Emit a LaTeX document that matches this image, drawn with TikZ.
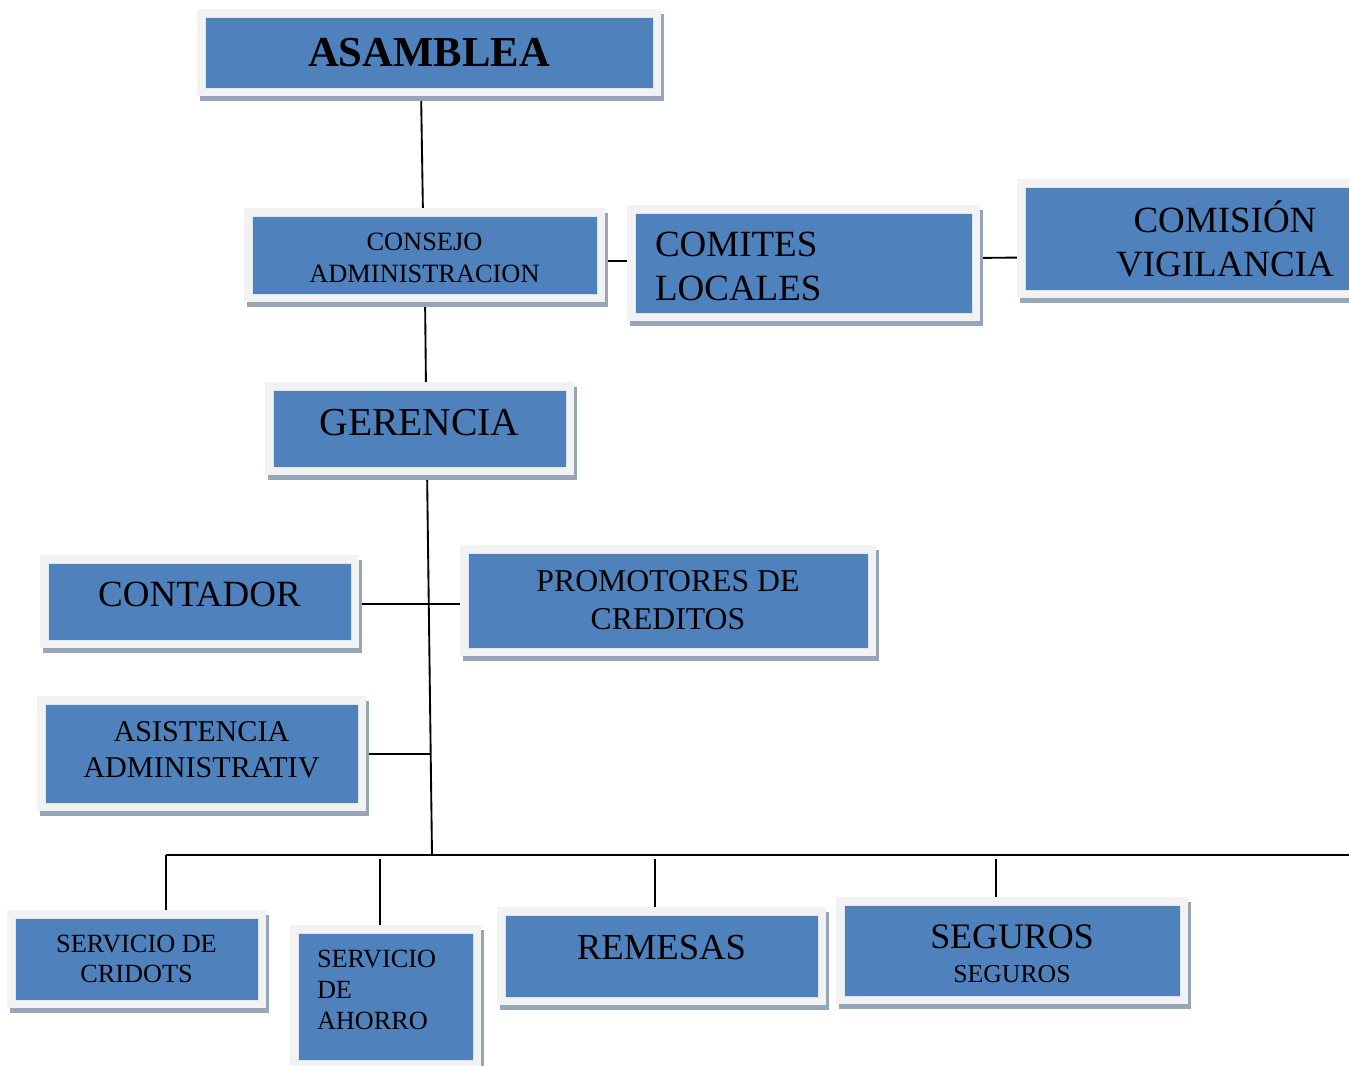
\documentclass[tikz,border=0pt]{standalone}
\usepackage{fontspec}
\setmainfont{Liberation Serif}
\usetikzlibrary{calc}
\definecolor{boxblue}{HTML}{4F81BD}
\definecolor{framegray}{HTML}{F2F2F2}
\definecolor{shadowgray}{HTML}{97A5B8}
\definecolor{edgeblue}{HTML}{DCE6F2}
\pgfdeclarelayer{links}
\pgfsetlayers{links,main}
\tikzset{
  orgbox/.style={fill=boxblue, draw=edgeblue, line width=0.6pt, inner sep=0pt,
    align=center, text=black,
    preaction={draw=shadowgray, fill=shadowgray, line width=12pt,
      transform canvas={shift={(2.5pt,-4pt)}}},
    preaction={draw=framegray, fill=framegray, line width=12pt}},
  boxsize/.style 2 args={minimum width=#1*0.75pt, minimum height=#2*0.75pt},
  link/.style={draw=black, line width=1.4pt},
}
\begin{document}
\begin{tikzpicture}[x=0.75pt, y=-0.75pt]
  \path[use as bounding box, clip] (0,0) rectangle (1349,1066);

  % governing bodies
  \node[orgbox, boxsize={448}{71}, font=\bfseries\fontsize{32}{40}\selectfont]
    (asamblea) at (429,52.5) {ASAMBLEA};
  \node[orgbox, boxsize={345}{78}, text height=41pt, font=\fontsize{19.8}{24}\selectfont]
    (consejo) at (424.5,255) {CONSEJO\\ADMINISTRACION};
  \node[orgbox, boxsize={337}{100}, align=left, inner xsep=15pt, text width=222.75pt,
    text depth=27.8pt, font=\fontsize{27.75}{33}\selectfont]
    (comites) at (803.5,263) {COMITES\\LOCALES};
  \node[orgbox, boxsize={400}{103}, font=\fontsize{27.75}{33}\selectfont]
    (comision) at (1225,238.5) {COMISIÓN\\VIGILANCIA};
  \node[orgbox, boxsize={293}{77}, text depth=9.75pt, font=\fontsize{29.7}{36}\selectfont]
    (gerencia) at (419.5,428.5) {GERENCIA};

  % staff units
  \node[orgbox, boxsize={303}{77}, text depth=10.5pt, font=\fontsize{27.75}{33}\selectfont]
    (contador) at (199.5,601.5) {CONTADOR};
  \node[orgbox, boxsize={400}{95}, font=\fontsize{23.8}{28.5}\selectfont]
    (promotores) at (668,600.5) {PROMOTORES DE\\CREDITOS};
  \node[orgbox, boxsize={313}{99}, text depth=6pt, font=\fontsize{22.6}{27}\selectfont]
    (asistencia) at (201.5,753.5) {ASISTENCIA\\ADMINISTRATIV};

  % services
  \node[orgbox, boxsize={243}{82}, font=\fontsize{19.7}{22.5}\selectfont]
    (cridots) at (136.5,959) {SERVICIO DE\\CRIDOTS};
  \node[orgbox, boxsize={175}{127}, align=left, inner xsep=14.25pt, text width=102.75pt,
    text depth=57pt, font=\fontsize{19.7}{23.25}\selectfont]
    (ahorro) at (385.5,996.5) {SERVICIO\\DE\\AHORRO};
  \node[orgbox, boxsize={313}{82}, text depth=13.5pt, font=\fontsize{27.5}{33}\selectfont]
    (remesas) at (661.5,956) {REMESAS};
  \node[orgbox, boxsize={336}{91}, text height=48.5pt, font=\fontsize{26.9}{25.5}\selectfont]
    (seguros) at (1012,950.5) {SEGUROS\\{\fontsize{19.3}{25.5}\selectfont SEGUROS}};

  % connector points
  \coordinate (hub) at (432,855);
  \coordinate (busL) at (166,855);
  \coordinate (busR) at (1360,855);
  \coordinate (tap) at (431,754);

  \begin{pgfonlayer}{links}
    \draw[link] ($(asamblea.south)+(-8,0)$) -- ($(consejo.north)+(-1.5,0)$);
    \draw[link] ($(consejo.south)+(0.5,0)$) -- ($(gerencia.north)+(6.5,0)$);
    \draw[link] ($(consejo.east)+(0,6)$) -- ($(comites.west)+(0,-2)$);
    \draw[link] ($(comites.east)+(0,-5)$) -- ($(comision.west)+(0,19)$);
    \draw[link] ($(gerencia.south)+(7.5,0)$) -- (hub);
    \draw[link] ($(contador.east)+(0,2.5)$) -- ($(promotores.west)+(0,3.5)$);
    \draw[link] ($(asistencia.east)+(0,0.5)$) -- (tap);
    \draw[link] (busL) -- (busR);
    \draw[link] ($(cridots.north)+(29.5,0)$) -- (busL);
    \draw[link] ($(ahorro.north)+(-5.5,0)$) -- ++(0,-74);
    \draw[link] ($(remesas.north)+(-6.5,0)$) -- ++(0,-56);
    \draw[link] ($(seguros.north)+(-16,0)$) -- ++(0,-46);
  \end{pgfonlayer}
\end{tikzpicture}
\end{document}
